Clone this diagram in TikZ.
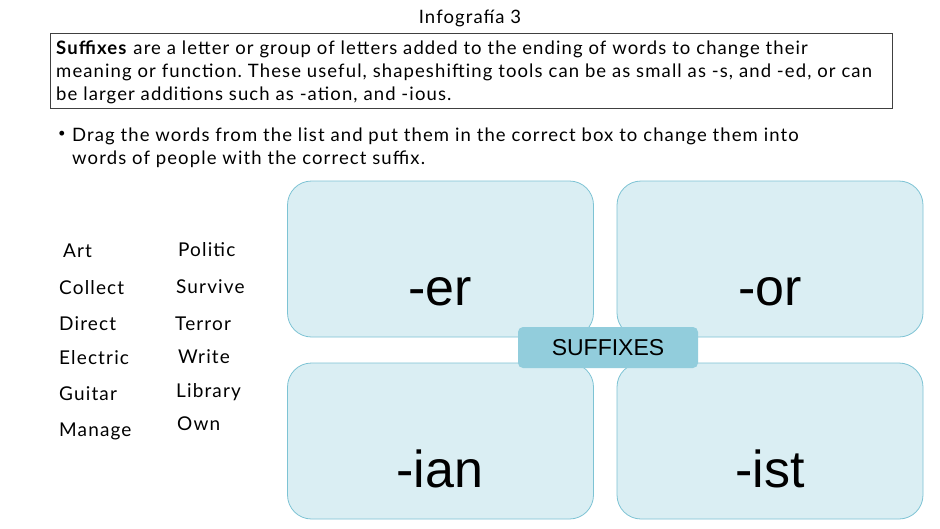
\documentclass[tikz,border=0pt]{standalone}
\usepackage{fontspec}
\setmainfont{Lato}[LetterSpace=6]
\newfontfamily\sufffont{Liberation Sans}
\definecolor{boxfill}{HTML}{DAEEF3}
\definecolor{boxline}{HTML}{7DC3D4}
\definecolor{labfill}{HTML}{92CDDC}
\definecolor{frame}{HTML}{404040}
\frenchspacing
\begin{document}
\begin{tikzpicture}[x=1pt,y=-1pt,
  txt/.style={anchor=base west,inner sep=0pt,font=\fontsize{18.5}{22}\selectfont},
  word/.style={anchor=base west,inner sep=0pt,font=\fontsize{19}{23}\selectfont},
  suffbox/.style={draw=boxline,fill=boxfill,line width=0.8pt,rounded corners=24pt,minimum width=306pt,minimum height=156pt,inner sep=0pt},
  sufftext/.style={inner sep=0pt,anchor=base,font=\sufffont\fontsize{52}{60}\selectfont},
  labbox/.style={fill=labfill,rounded corners=5pt,minimum width=180pt,minimum height=41pt,inner sep=0pt,font=\sufffont\fontsize{23}{26}\selectfont}]
\useasboundingbox[fill=white] (0,0) rectangle (940,528);
% title
\node[anchor=base,inner sep=0pt,font=\fontsize{18.5}{22}\selectfont] (title) at (470,23) {Infografía 3};
% description
\node[draw=frame,line width=0.8pt,minimum width=842pt,minimum height=75pt,anchor=north west,inner sep=0pt] (desc) at (50,33) {};
\node[txt] (d1) at (56,54) {\textbf{Suffixes} are a letter or group of letters added to the ending of words to change their};
\node[txt] (d2) at (56,77) {meaning or function. These useful, shapeshifting tools can be as small as -s, and -ed, or can};
\node[txt] (d3) at (56,100) {be larger additions such as -ation, and -ious.};
% instruction
\node[inner sep=0pt,font=\fontsize{13}{15}\selectfont] (b0) at (62,134) {\textbullet};
\node[txt] (b1) at (72,141) {Drag the words from the list and put them in the correct box to change them into};
\node[txt] (b2) at (72,164) {words of people with the correct suffix.};
% word list
\node[word] (w1) at (63,257) {Art};
\node[word] (w2) at (59,294) {Collect};
\node[word] (w3) at (59,330) {Direct};
\node[word] (w4) at (59,364) {Electric};
\node[word] (w5) at (59,400) {Guitar};
\node[word] (w6) at (59,436) {Manage};
\node[word] (v1) at (178,256) {Politic};
\node[word] (v2) at (176,293) {Survive};
\node[word] (v3) at (175,330) {Terror};
\node[word] (v4) at (178,363) {Write};
\node[word] (v5) at (176,397) {Library};
\node[word] (v6) at (177,430) {Own};
% boxes
\node[suffbox] (er) at (440.5,259) {};
\node[suffbox] (or) at (770,259) {};
\node[suffbox] (ian) at (440.5,441) {};
\node[suffbox] (ist) at (770,441) {};
\node[sufftext] (ter) at (440,305) {-er};
\node[sufftext] (tor) at (770,305) {-or};
\node[sufftext] (tian) at (440,487) {-ian};
\node[sufftext] (tist) at (770,487) {-ist};
\node[labbox] (lab) at (608,347.5) {SUFFIXES};
\end{tikzpicture}
\end{document}
